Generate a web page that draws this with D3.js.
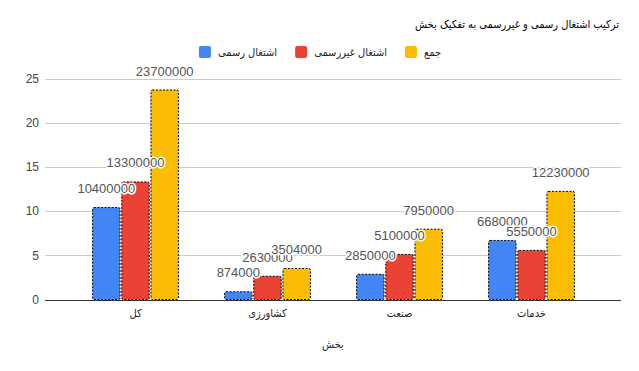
<!DOCTYPE html>
<html>
  <meta charset="utf-8" />
  <script src="https://cdn.jsdelivr.net/npm/d3@7/dist/d3.min.js"></script>
  <style>
    html, body {
      margin: 0;
      padding: 0;
      background-color: #fff;
      font-family: 'Liberation Sans', Arial, 'DejaVu Sans', sans-serif;
    }

    .fa {
      font-family: 'DejaVu Sans Condensed', 'DejaVu Sans', sans-serif;
    }

    .title {
      font-size: 11px;
      fill: #000;
    }

    .legend text {
      font-size: 11px;
      fill: #222;
    }

    .y-axis text {
      font-size: 12px;
      fill: #444;
    }

    .grid line {
      stroke: #ccc;
      stroke-width: 1px;
      shape-rendering: crispEdges;
    }

    .baseline {
      stroke: #333;
      stroke-width: 1px;
      shape-rendering: crispEdges;
    }

    .x-axis text {
      font-size: 11px;
      fill: #222;
    }

    .bar {
      stroke: #000;
      stroke-width: 1px;
      stroke-dasharray: 2, 1.5;
    }

    .label {
      font-size: 13px;
      fill: #555;
      stroke: #fff;
      stroke-width: 3px;
      paint-order: stroke;
      stroke-linejoin: round;
    }
  </style>

  <body>
    <div id="chart"></div>
  </body>
  <script>
    var categories = ['کل', 'کشاورزی', 'صنعت', 'خدمات'];
    var seriesNames = ['اشتغال رسمی', 'اشتغال غیررسمی', 'جمع'];
    var formal = [10400000, 874000, 2850000, 6680000];
    var informal = [13300000, 2630000, 5100000, 5550000];
    var total = [23700000, 3504000, 7950000, 12230000];
    var yTicks = [0, 5, 10, 15, 20, 25];
    var colors = ['#4285f4', '#ea4335', '#fbbc04'];

    var width = 639,
      height = 371;

    var svg = d3
      .select('#chart')
      .append('svg')
      .attr('width', width)
      .attr('height', height);

    // bars are drawn in millions, labels keep the raw number
    var series = [formal, informal, total];

    var x0 = d3
      .scaleBand()
      .domain(categories)
      .range([69.5, 597.5])
      .paddingInner(0.35)
      .paddingOuter(0.175);

    var x1 = d3
      .scaleBand()
      .domain(d3.range(series.length))
      .range([0, x0.bandwidth()])
      .paddingInner(0.06);

    var y = d3.scaleLinear().domain([0, 25]).range([299.5, 78.5]);

    svg
      .append('text')
      .attr('class', 'title fa')
      .attr('x', 619)
      .attr('y', 28)
      .attr('text-anchor', 'end')
      .text('ترکیب اشتغال رسمی و  غیررسمی به تفکیک بخش');

    // gridlines
    svg
      .append('g')
      .attr('class', 'grid')
      .selectAll('line')
      .data(yTicks.filter((d) => d > 0))
      .enter()
      .append('line')
      .attr('x1', 45)
      .attr('x2', 621)
      .attr('y1', (d) => Math.round(y(d)) + 0.5)
      .attr('y2', (d) => Math.round(y(d)) + 0.5);

    var yAxis = svg
      .append('g')
      .attr('class', 'y-axis')
      .attr('transform', 'translate(39,0)')
      .call(d3.axisLeft(y).tickValues(yTicks).tickSize(0).tickPadding(0));
    yAxis.select('.domain').remove();
    yAxis.selectAll('text').attr('font-family', null).attr('font-size', null);

    var groups = svg
      .append('g')
      .selectAll('g')
      .data(categories)
      .enter()
      .append('g')
      .attr('transform', (d) => 'translate(' + x0(d) + ',0)');

    groups
      .selectAll('rect')
      .data((d, i) => series.map((s, k) => ({ k: k, v: s[i] })))
      .enter()
      .append('rect')
      .attr('class', 'bar')
      .attr('x', (d) => x1(d.k))
      .attr('width', x1.bandwidth())
      .attr('y', (d) => y(d.v / 1e6))
      .attr('height', (d) => y(0) - y(d.v / 1e6))
      .attr('rx', 1.5)
      .attr('fill', (d) => colors[d.k]);

    groups
      .selectAll('text')
      .data((d, i) => series.map((s, k) => ({ k: k, v: s[i] })))
      .enter()
      .append('text')
      .attr('class', 'label')
      .attr('x', (d) => x1(d.k) + x1.bandwidth() / 2)
      .attr('y', (d) => y(d.v / 1e6) - 19)
      .attr('dy', '0.35em')
      .attr('text-anchor', 'middle')
      .text((d) => d.v);

    svg
      .append('line')
      .attr('class', 'baseline')
      .attr('x1', 45)
      .attr('x2', 621)
      .attr('y1', 300)
      .attr('y2', 300);

    var xAxis = svg
      .append('g')
      .attr('class', 'x-axis')
      .attr('transform', 'translate(0,300)')
      .call(d3.axisBottom(x0).tickSize(0).tickPadding(9));
    xAxis.select('.domain').remove();
    xAxis.selectAll('text').attr('font-family', null).attr('font-size', null).attr('class', 'fa');

    svg
      .append('text')
      .attr('class', 'fa')
      .attr('x', 333)
      .attr('y', 348)
      .attr('text-anchor', 'middle')
      .style('font-size', '11px')
      .style('fill', '#222')
      .text('بخش');

    // legend, laid out left to right then centred
    var legend = svg.append('g').attr('class', 'legend');
    var offset = 0;
    seriesNames.forEach(function (name, i) {
      var cell = legend.append('g').attr('transform', 'translate(' + offset + ',0)');
      cell
        .append('rect')
        .attr('width', 12)
        .attr('height', 12)
        .attr('rx', 2)
        .attr('fill', colors[i]);
      var t = cell
        .append('text')
        .attr('class', 'fa')
        .attr('x', 19)
        .attr('y', 6)
        .attr('dy', '0.35em')
        .text(name);
      offset += 19 + t.node().getComputedTextLength() + 18;
    });
    var legendWidth = offset - 18;
    legend.attr('transform', 'translate(' + (320 - legendWidth / 2) + ',46)');
  </script>
</html>
